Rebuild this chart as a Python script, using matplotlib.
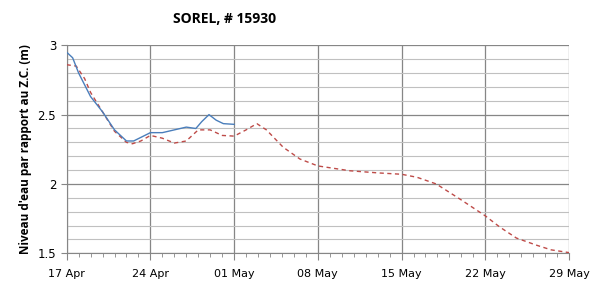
import numpy as np
import matplotlib
matplotlib.use("Agg")
import matplotlib.pyplot as plt
from matplotlib.ticker import MultipleLocator

# days since 17 Apr
tick_days = [0, 7, 14, 21, 28, 35, 42]
tick_labels = ["17 Apr", "24 Apr", "01 May", "08 May", "15 May", "22 May", "29 May"]

# observed level (solid blue)
obs_days = [0, 0.5, 1, 2, 3, 4, 5, 5.6, 6.3, 7, 8, 9, 10, 10.8, 11.3, 11.9, 12.5, 13.1, 14]
obs_vals = [2.95, 2.91, 2.80, 2.63, 2.52, 2.39, 2.31, 2.31, 2.34, 2.37, 2.37, 2.39, 2.41, 2.40,
            2.45, 2.50, 2.46, 2.435, 2.43]

# predicted level (dashed red)
pred_days = [0, 0.8, 1.5, 2, 3, 4, 5, 5.5, 6.2, 7, 8, 9, 10, 11, 12, 13, 14, 15, 15.9, 16.7,
             18.1, 19.5, 21, 23.7, 26, 28, 29.3, 30.9, 32.9, 35, 36.2, 37.6, 39.3, 40.5, 42]
pred_vals = [2.86, 2.85, 2.76, 2.66, 2.52, 2.38, 2.30, 2.29, 2.31, 2.35, 2.33, 2.295, 2.31, 2.39,
             2.39, 2.35, 2.345, 2.39, 2.435, 2.39, 2.265, 2.18, 2.13, 2.095, 2.08, 2.07, 2.048,
             2.0, 1.89, 1.77, 1.69, 1.61, 1.558, 1.525, 1.505]

fig = plt.figure(figsize=(6.06, 2.87), dpi=100)
ax = fig.add_axes([0.110, 0.1174, 0.829, 0.7248])

ax.plot(pred_days, pred_vals, color="#be4b48", lw=1.0, ls=(0, (3, 2.5)), zorder=3)
ax.plot(obs_days, obs_vals, color="#4a7ebb", lw=1.0, zorder=4)

ax.set_xlim(0, 42)
ax.set_ylim(1.5, 3)
ax.set_xticks(tick_days)
ax.set_xticklabels(tick_labels, fontsize=8, family="DejaVu Sans")
ax.xaxis.set_minor_locator(MultipleLocator(1))
ax.set_yticks([1.5, 2, 2.5, 3])
ax.set_yticklabels(["1.5", "2", "2.5", "3"], fontsize=8.5, family="DejaVu Sans")
ax.yaxis.set_minor_locator(MultipleLocator(0.1))

ax.grid(which="major", axis="both", color="#868686", lw=0.9)
ax.grid(which="minor", axis="y", color="#c0c0c0", lw=0.8)
ax.tick_params(axis="x", which="major", length=5, color="#868686", pad=6)
ax.tick_params(axis="x", which="minor", length=3, color="#868686")
ax.tick_params(axis="y", which="major", length=4, color="#868686")
ax.tick_params(axis="y", which="minor", length=0)

for s in ["top", "right"]:
    ax.spines[s].set_visible(False)
for s in ["left", "bottom"]:
    ax.spines[s].set_color("#868686")

ax.set_ylabel("Niveau d'eau par rapport au Z.C. (m)", fontsize=8.5, fontweight="bold",
              family="Open Sans")
fig.text(0.37, 0.935, "SOREL, # 15930", fontsize=10, fontweight="bold", ha="center",
         va="center", family="Open Sans")

fig.savefig("out.png", dpi=100)
